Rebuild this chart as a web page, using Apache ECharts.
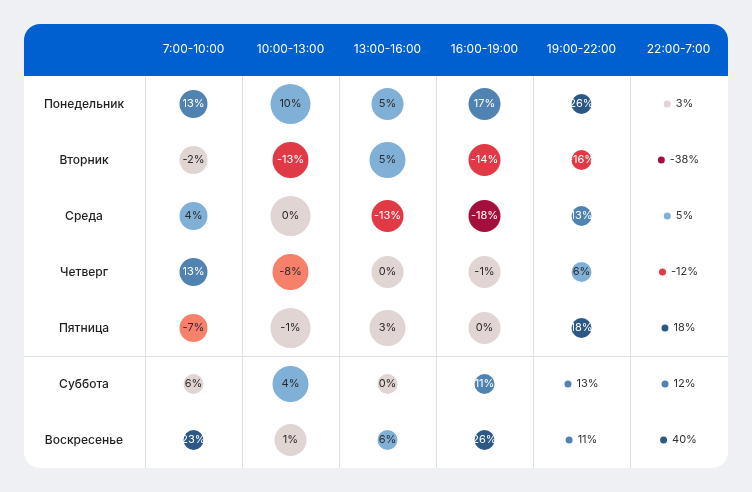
<!DOCTYPE html>
<html>
<head>
<meta charset="utf-8">
<script src="https://cdn.jsdelivr.net/npm/echarts@6/dist/echarts.min.js"></script>
<style>
html,body{margin:0;padding:0;background:#eff0f4;}
#chart{width:752px;height:492px;}
</style>
</head>
<body>
<div id="chart"></div>
<script>
// ---- data ----
var timeSlots = ['7:00-10:00', '10:00-13:00', '13:00-16:00', '16:00-19:00', '19:00-22:00', '22:00-7:00'];
var days = ['Понедельник', 'Вторник', 'Среда', 'Четверг', 'Пятница', 'Суббота', 'Воскресенье'];

// change, % (label)
var change = [
  [13, 10, 5, 17, 26, 3],
  [-2, -13, 5, -14, -16, -38],
  [4, 0, -13, -18, 13, 5],
  [13, -8, 0, -1, 6, -12],
  [-7, -1, 3, 0, 18, 18],
  [6, 4, 0, 11, 13, 12],
  [23, 1, 6, 26, 11, 40]
];
// relative volume (bubble weight)
var volume = [
  [7, 10, 8, 8, 5, 1.75],
  [7, 9, 9, 8, 5, 1.75],
  [7, 10, 8, 8, 5, 1.75],
  [7, 9, 8, 8, 5, 1.75],
  [7, 10, 9, 8, 5, 1.75],
  [5, 9, 5, 5, 1.75, 1.75],
  [5, 8, 5, 5, 1.75, 1.75]
];
// change class (-3 strong fall ... 3 strong growth)
var level = [
  [2, 1, 1, 2, 3, 0],
  [0, -2, 1, -2, -2, -3],
  [1, 0, -2, -3, 2, 1],
  [2, -1, 0, 0, 1, -2],
  [-1, 0, 0, 0, 3, 3],
  [0, 1, 0, 2, 2, 2],
  [3, 0, 1, 3, 2, 3]
];

// ---- styles ----
var levelColors = {'-3': '#a50f3b', '-2': '#e13a46', '-1': '#f7806b', '0': '#e0d5d3', '1': '#80b0d6', '2': '#5083b1', '3': '#2d5886'};
var levelText = {'-3': '#ffffff', '-2': '#ffffff', '-1': '#2b2b2b', '0': '#2b2b2b', '1': '#2b2b2b', '2': '#ffffff', '3': '#ffffff'};
var FONT = 'Inter, "Noto Sans", sans-serif';
var LABEL_SIZE = 11;
var DOT_LIMIT = 2;

var ctx = document.createElement('canvas').getContext('2d');
ctx.font = LABEL_SIZE + 'px ' + FONT;
function textW(s) { return ctx.measureText(s).width; }

var data = [];
for (var r = 0; r < days.length; r++) {
  for (var c = 0; c < timeSlots.length; c++) {
    var v = change[r][c], w = volume[r][c], lv = String(level[r][c]);
    var txt = v + '%';
    var item = {
      value: [c, r, w, v],
      itemStyle: {color: levelColors[lv], opacity: 1}
    };
    if (w <= DOT_LIMIT) {
      item.symbolOffset = [-(textW(txt) + 5) / 2, 0];
      item.label = {position: 'right', distance: 5, color: '#333'};
    } else {
      item.label = {position: 'inside', color: levelText[lv]};
    }
    data.push(item);
  }
}

var chart = echarts.init(document.getElementById('chart'), null, {renderer: 'canvas'});
var cardGraphics = [
  {type: 'rect', z: -10, shape: {x: 24, y: 24, width: 704, height: 444, r: 16}, style: {fill: '#ffffff'}},
  {type: 'rect', z: -9, shape: {x: 24, y: 24, width: 704, height: 52, r: [16, 16, 0, 0]}, style: {fill: '#0060d0'}}
];
var option = {
  backgroundColor: '#eff0f4',
  animation: false,
  graphic: cardGraphics,
  grid: {left: 145, right: 25, top: 76, bottom: 24},
  xAxis: {
    type: 'category',
    position: 'top',
    data: timeSlots,
    axisLine: {show: false},
    axisTick: {show: false},
    axisLabel: {color: '#ffffff', fontFamily: FONT, fontSize: 12, margin: 27, verticalAlign: 'middle'},
    splitLine: {show: true, showMaxLine: false, lineStyle: {color: '#e0e0eb', width: 1}}
  },
  yAxis: {
    type: 'category',
    inverse: true,
    data: days,
    axisLine: {show: false},
    axisTick: {show: false},
    axisLabel: {color: '#1f1f1f', fontFamily: FONT, fontSize: 12, fontWeight: 500, margin: 61, align: 'center'},
    splitLine: {show: false}
  },
  series: [{
    type: 'scatter',
    data: data,
    symbol: 'circle',
    symbolSize: function (val) { return val[2] * 4; },
    itemStyle: {opacity: 1},
    label: {
      show: true,
      fontFamily: FONT,
      fontSize: LABEL_SIZE,
      formatter: function (p) { return p.value[3] + '%'; }
    },
    emphasis: {disabled: true}
  }]
};
chart.setOption(option);

// separator between weekdays and weekend
var yFri = chart.convertToPixel({yAxisIndex: 0}, 'Пятница');
var ySat = chart.convertToPixel({yAxisIndex: 0}, 'Суббота');
var ySep = Math.round((yFri + ySat) / 2) + 0.5;
chart.setOption({
  graphic: cardGraphics.concat([
    {type: 'line', z: 1, shape: {x1: 24, y1: ySep, x2: 728, y2: ySep}, style: {stroke: '#e0e0eb', lineWidth: 1}}
  ])
});
</script>
</body>
</html>
